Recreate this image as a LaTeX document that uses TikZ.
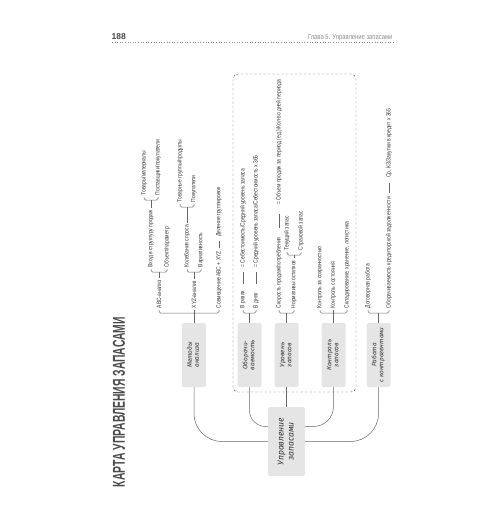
\documentclass[tikz,border=0pt]{standalone}
\usepackage{graphicx}
\usepackage{fontspec}
\setmainfont{Liberation Sans}
\newfontfamily\condf{Liberation Sans}[FakeStretch=0.8]
\newfontfamily\handf{Fira Sans}
\usetikzlibrary{calc}
\definecolor{linec}{HTML}{666666}
\definecolor{txtc}{HTML}{363636}
\definecolor{boxc}{HTML}{E5E5E6}
\definecolor{handc}{HTML}{333333}
\definecolor{grayc}{HTML}{8C8C8C}
\definecolor{titlec}{HTML}{4A4A4A}
\newcommand\boxtxt[2]{\rotatebox{90}{\begin{tabular}{@{}c@{}}#1\\#2\end{tabular}}}
\newcommand\brk[2]{\draw[br] ($(#1.west)+(0,1)$) -- ($(#1.west)+(0,4)$) -- ($(#2.west)+(0,4)$) -- ($(#2.west)+(0,1)$);}
\newcommand\stemt[2]{\coordinate (tmpk) at ($(#2.west)+(0,4)$); \draw[ln] ($(#1.east)+(0,-1.5)$) -- (#1.east |- tmpk);}
\newcommand\stemb[2]{\coordinate (tmpk) at ($(#2.west)+(0,4)$); \draw[ln] (#1.north) -- (#1.north |- tmpk);}
\newcommand\dsh[2]{\draw[ln] ($(#1.east)+(0,-3)$) -- ($(#2.west)+(0,3)$);}
\newcommand\eqdsh[1]{\draw[ln] ($(#1.west)+(0,4)$) -- ($(#1.west)+(0,16)$);}
\begin{document}
\begin{tikzpicture}[x=1pt,y=-1pt,
  lbl/.style={rotate=90,anchor=west,inner sep=0.5pt,text=txtc,font=\condf\fontsize{6.2}{7}\selectfont},
  gbox/.style={fill=boxc,rounded corners=1.5pt,inner sep=0pt,minimum width=24pt,minimum height=64pt,text=handc,font=\handf\itshape\fontsize{6.4}{7}\selectfont},
  ln/.style={draw=linec,line width=0.5pt},
  br/.style={ln,rounded corners=1.5pt}]
\useasboundingbox (0,0) rectangle (500,532);
% header
\node[anchor=base west,inner sep=0,font=\bfseries\fontsize{8.5}{9}\selectfont,text=titlec] (pg) at (111.5,39.5) {188};
\node[anchor=base east,inner sep=0,font=\condf\fontsize{7.3}{8}\selectfont,text=grayc] (ch) at (392.5,39.5) {Глава 5. Управление запасами};
\draw[grayc,dotted,line width=0.6pt] (112,42) -- (393,42);
% title
\node[rotate=90,inner sep=0,text=titlec] (title) at (119,402) {\resizebox{170pt}{12pt}{\bfseries КАРТА УПРАВЛЕНИЯ ЗАПАСАМИ}};
% dashed group
\draw[linec,line width=0.45pt,dash pattern=on 2.5pt off 2pt,rounded corners=5pt] (233,74) rectangle (356,392);
% boxes
\node[gbox,minimum width=37pt,minimum height=69pt,font=\handf\itshape\fontsize{8.6}{10}\selectfont] (root) at (286.5,441.5) {\boxtxt{Управление}{запасами}};
\node[gbox] (m) at (194,355) {\boxtxt{Методы}{анализа}};
\node[gbox] (ob) at (249.5,355) {\boxtxt{Оборачи-}{ваемость}};
\node[gbox] (ur) at (286.5,355) {\boxtxt{Уровень}{запасов}};
\node[gbox] (ko) at (333.5,355) {\boxtxt{Контроль}{запасов}};
\node[gbox] (ra) at (378.5,355) {\boxtxt{Работа}{с контрагентами}};
% root connectors
\draw[ln,rounded corners=28pt] (m.south) |- (root.west);
\draw[ln,rounded corners=28pt] (ra.south) |- (root.east);
\draw[ln,rounded corners=16pt] (ob.south) |- ([yshift=15pt]root.west);
\draw[ln,rounded corners=20pt] (ko.south) |- ([yshift=15pt]root.east);
\draw[ln] (ur.south) -- (root.north);
% Методы анализа
\node[lbl] (abc) at (159,309) {ABC-анализ};
\node[lbl] (xyz) at (194,309) {XYZ-анализ};
\node[lbl] (sov) at (219,309) {Совмещение ABC + XYZ};
\node[lbl] (del) at ($(sov.east)+(0,-13)$) {Деление группировок};
\dsh{sov}{del}
\brk{abc}{sov}
\stemb{m}{abc}
\draw[ln] (m.north) -- ($(xyz.west)+(0,1)$);
\node[lbl] (vhod) at (151,268) {Вход в структуру продаж};
\node[lbl] (obj) at (167,268) {Объект/параметр};
\brk{vhod}{obj}
\stemt{abc}{vhod}
\node[lbl] (tov) at (144,196) {Товары/материалы};
\node[lbl] (post) at (158,196) {Поставщики/покупатели};
\brk{tov}{post}
\stemt{vhod}{tov}
\node[lbl] (kol) at (187,268) {Колебания спроса};
\node[lbl] (var) at (201,268) {Вариативность};
\brk{kol}{var}
\stemt{xyz}{kol}
\node[lbl] (tg) at (180,203) {Товарные группы/продукты};
\node[lbl] (pok) at (194,203) {Покупатели};
\brk{tg}{pok}
\stemt{kol}{tg}
% Оборачиваемость
\node[lbl] (raz) at (243,309) {В разах};
\node[lbl] (dn) at (256,309) {В днях};
\brk{raz}{dn}
\stemb{ob}{raz}
\node[lbl] (eq1) at (243,268) {= Себестоимость/Средний уровень запаса};
\node[lbl] (eq2) at (256,268) {= Средний уровень запаса/Себестоимость х 365};
\eqdsh{eq1}
\eqdsh{eq2}
% Уровень запасов
\node[lbl] (sk) at (279,309) {Скорость продаж/потребления};
\node[lbl] (norm) at (294,309) {Нормативы остатков};
\brk{sk}{norm}
\stemb{ur}{sk}
\node[lbl] (eq3) at (279,205) {= Объем продаж за период (ед.)/Кол-во дней периода};
\draw[ln] ($(eq3.west)+(0,9)$) -- ($(eq3.west)+(0,23)$);
\node[lbl] (tek) at (287,251) {Текущий запас};
\node[lbl] (str) at (301,251) {Страховой запас};
\brk{tek}{str}
\stemt{norm}{tek}
% Контроль запасов
\node[lbl] (ks) at (320,309) {Контроль за сохранностью};
\node[lbl] (kst) at (333.5,309) {Контроль состояния};
\node[lbl] (skl) at (347,309) {Складирование, хранение, логистика};
\brk{ks}{skl}
\draw[ln] (ko.north) -- ($(kst.west)+(0,1)$);
% Работа с контрагентами
\node[lbl] (dog) at (368,309) {Договорная работа};
\node[lbl] (okz) at (389,309) {Оборачиваемость кредиторской задолженности};
\node[lbl] (srk) at ($(okz.east)+(0,-18)$) {Ср. КЗ/Закупки в кредит х 365};
\draw[ln] ($(okz.east)+(0,-4)$) -- ($(srk.west)+(0,4)$);
\brk{dog}{okz}
\stemb{ra}{dog}
\end{tikzpicture}
\end{document}
